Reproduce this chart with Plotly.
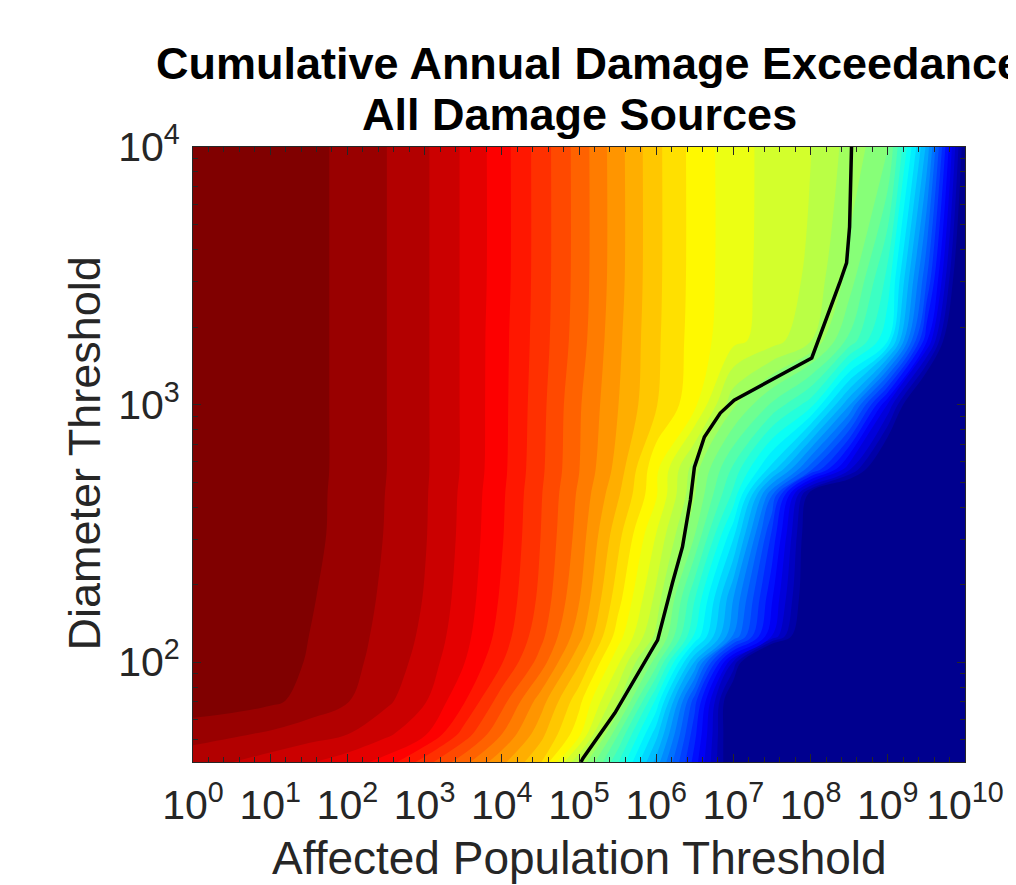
import numpy as np
import plotly.graph_objects as go

# ---- data (log10 units) ----
log_pop = [0.0, 0.5, 1.0, 1.5, 2.0, 2.5, 3.0, 3.5, 4.0, 4.5, 5.0,
           5.5, 6.0, 6.5, 7.0, 7.5, 8.0, 8.5, 9.0, 9.5, 10.0]
log_diam = [1.612, 1.72, 1.85, 2.0, 2.1, 2.25, 2.5, 2.65, 2.75, 3.0, 3.25, 3.5, 4.0]

# colour-band index (0 = deepest blue, 40 = darkest red), one row per diameter
band_1612 = [38.0, 37.52, 37.06, 36.59, 36.0, 35.12, 33.0, 30.88, 28.76, 26.64, 21.5, 16.66, 11.1, 5.01, -1.1, -3, -3, -3, -3, -3, -3]
band_1720 = [38.83, 38.65, 38.35, 37.93, 37.52, 36.71, 35.66, 33.13, 30.5, 27.87, 24.8, 18.62, 12.87, 5.76, -1.35, -3, -3, -3, -3, -3, -3]
band_1850 = [40.2, 40.0, 39.7, 39.19, 38.57, 37.73, 36.62, 34.69, 31.94, 29.02, 25.83, 21.73, 15.27, 6.9, -1.52, -3, -3, -3, -3, -3, -3]
band_2000 = [40.6, 40.3, 40.0, 39.42, 38.81, 38.09, 37.09, 35.6, 33.58, 31.09, 27.66, 23.74, 19.0, 11.38, 2.31, -6.7, -6.7, -6.7, -6.7, -6.7, -6.7]
band_2100 = [40.65, 40.35, 40.05, 39.5, 38.9, 38.21, 37.29, 35.88, 34.07, 31.83, 28.88, 25.04, 21.23, 15.36, 9.41, 3.47, -2.47, -3, -3, -3, -3]
band_2250 = [40.7, 40.4, 40.1, 39.62, 39.0, 38.33, 37.45, 36.09, 34.35, 32.27, 29.61, 25.94, 22.21, 16.57, 10.52, 4.63, -1.27, -3, -3, -3, -3]
band_2500 = [40.8, 40.5, 40.2, 39.8, 39.14, 38.45, 37.59, 36.25, 34.6, 32.52, 30.12, 26.9, 23.5, 19.58, 13.8, 6.33, -1.14, -3, -3, -3, -3]
band_2650 = [40.8, 40.5, 40.2, 39.82, 39.16, 38.48, 37.62, 36.3, 34.68, 32.61, 30.31, 27.67, 24.63, 20.57, 16.22, 8.56, -0.4, -3, -3, -3, -3]
band_2750 = [40.8, 40.5, 40.2, 39.85, 39.19, 38.52, 37.66, 36.38, 34.79, 32.74, 30.54, 28.13, 24.76, 20.93, 17.27, 13.05, 7.9, 2.76, -2.4, -3, -3]
band_3000 = [40.8, 40.5, 40.2, 39.85, 39.19, 38.52, 37.66, 36.38, 34.83, 32.85, 30.63, 28.56, 26.58, 24.77, 20.71, 18.33, 15.95, 10.65, 3.4, -3.85, -3.85]
band_3250 = [40.8, 40.5, 40.2, 39.85, 39.19, 38.52, 37.66, 36.38, 34.85, 32.99, 30.97, 28.74, 26.69, 25.05, 23.8, 22.98, 21.6, 18.27, 14.6, 4.8, -5.0]
band_3500 = [40.8, 40.5, 40.2, 39.85, 39.19, 38.52, 37.66, 36.38, 34.94, 33.04, 31.08, 28.9, 26.75, 25.13, 23.93, 23.08, 22.33, 20.2, 16.2, 7.75, -2.6]
band_4000 = [40.8, 40.5, 40.2, 39.85, 39.19, 38.52, 37.66, 36.38, 34.94, 33.04, 31.08, 28.9, 26.75, 25.13, 23.93, 23.14, 22.53, 21.15, 19.63, 11.3, -0.5]

band_rows = [band_1612, band_1720, band_1850, band_2000, band_2100, band_2250,
             band_2500, band_2650, band_2750, band_3000, band_3250, band_3500, band_4000]

# black contour line (log10 pop, log10 diameter)
black_x = [8.53, 8.52, 8.505, 8.466, 8.376, 8.015, 7.01, 6.83, 6.624, 6.534, 6.495,
           6.443, 6.34, 6.21, 6.018, 5.979, 5.464, 5.052, 5.026]
black_y = [4.0, 3.85, 3.69, 3.55, 3.472, 3.181, 3.017, 2.967, 2.874, 2.792, 2.757,
           2.629, 2.447, 2.307, 2.085, 2.066, 1.802, 1.627, 1.612]

x_tickvals = [0, 1, 2, 3, 4, 5, 6, 7, 8, 9, 10]
x_ticktext = ["10<sup>0</sup>", "10<sup>1</sup>", "10<sup>2</sup>", "10<sup>3</sup>",
              "10<sup>4</sup>", "10<sup>5</sup>", "10<sup>6</sup>", "10<sup>7</sup>",
              "10<sup>8</sup>", "10<sup>9</sup>", "10<sup>10</sup>"]
y_tickvals = [2, 3, 4]
y_ticktext = ["10<sup>2</sup>", "10<sup>3</sup>", "10<sup>4</sup>"]
y_minor_values = [50, 60, 70, 80, 90, 200, 300, 400, 500, 600, 700, 800, 900,
                  2000, 3000, 4000, 5000, 6000, 7000, 8000, 9000]

title_line1 = "Cumulative Annual Damage Exceedance"
title_line2 = "All Damage Sources"
x_label = "Affected Population Threshold"
y_label = "Diameter Threshold"

# MATLAB-like jet colour map
jet_scale = [[0.0, "rgb(0,0,143)"], [7 / 63, "rgb(0,0,255)"], [23 / 63, "rgb(0,255,255)"],
             [39 / 63, "rgb(255,255,0)"], [55 / 63, "rgb(255,0,0)"], [1.0, "rgb(128,0,0)"]]

AX = "#262626"
FONT = "Liberation Sans, Arial, Helvetica, sans-serif"

fig = go.Figure()
fig.add_trace(go.Contour(
    x=log_pop, y=log_diam, z=band_rows,
    colorscale=jet_scale, autocontour=False,
    contours=dict(start=0.5, end=39.5, size=1, coloring="fill", showlines=False),
    line=dict(width=0, smoothing=1.0),
    showscale=False, hoverinfo="skip",
))
fig.add_trace(go.Scatter(
    x=black_x, y=black_y, mode="lines",
    line=dict(color="black", width=3.5), hoverinfo="skip", showlegend=False,
))

x_minor = [round(i * 0.2, 2) for i in range(51) if i % 5 != 0]
y_minor = list(np.log10(y_minor_values))

# the page body has an 8px margin, so the figure is 8px smaller and margins shifted
fig.update_layout(
    width=1008, height=877,
    margin=dict(l=185, r=47, t=139, b=123),
    paper_bgcolor="white", plot_bgcolor="white",
    showlegend=False,
    font=dict(family=FONT, color=AX),
    xaxis=dict(
        range=[0, 10], tickmode="array", tickvals=x_tickvals, ticktext=x_ticktext,
        ticks="inside", ticklen=8, tickwidth=1, tickcolor=AX,
        showline=True, linecolor=AX, linewidth=1, mirror="allticks",
        showgrid=False, zeroline=False, ticklabelstandoff=7,
        tickfont=dict(size=41, color=AX, family=FONT),
        minor=dict(tickmode="array", tickvals=x_minor, ticks="inside", ticklen=5,
                   tickcolor=AX, tickwidth=1, showgrid=False),
    ),
    yaxis=dict(
        range=[1.612, 4], tickmode="array", tickvals=y_tickvals, ticktext=y_ticktext,
        ticks="inside", ticklen=8, tickwidth=1, tickcolor=AX,
        showline=True, linecolor=AX, linewidth=1, mirror="allticks",
        showgrid=False, zeroline=False, ticklabelstandoff=4,
        tickfont=dict(size=41, color=AX, family=FONT),
        minor=dict(tickmode="array", tickvals=y_minor, ticks="inside", ticklen=5,
                   tickcolor=AX, tickwidth=1, showgrid=False),
    ),
    annotations=[
        dict(text="<b>" + title_line1 + "</b>", x=0.5129, y=1.1358, xref="paper", yref="paper",
             xanchor="center", yanchor="middle", showarrow=False,
             font=dict(size=45, color="black", family=FONT)),
        dict(text="<b>" + title_line2 + "</b>", x=0.5, y=1.0528, xref="paper", yref="paper",
             xanchor="center", yanchor="middle", showarrow=False,
             font=dict(size=45, color="black", family=FONT)),
        dict(text=x_label, x=0.5, y=-0.1565, xref="paper", yref="paper",
             xanchor="center", yanchor="middle", showarrow=False,
             font=dict(size=46, color=AX, family=FONT)),
        dict(text=y_label, x=-0.1418, y=0.5008, xref="paper", yref="paper",
             xanchor="center", yanchor="middle", showarrow=False, textangle=-90,
             font=dict(size=45, color=AX, family=FONT)),
    ],
)

fig.write_html("out.html")
